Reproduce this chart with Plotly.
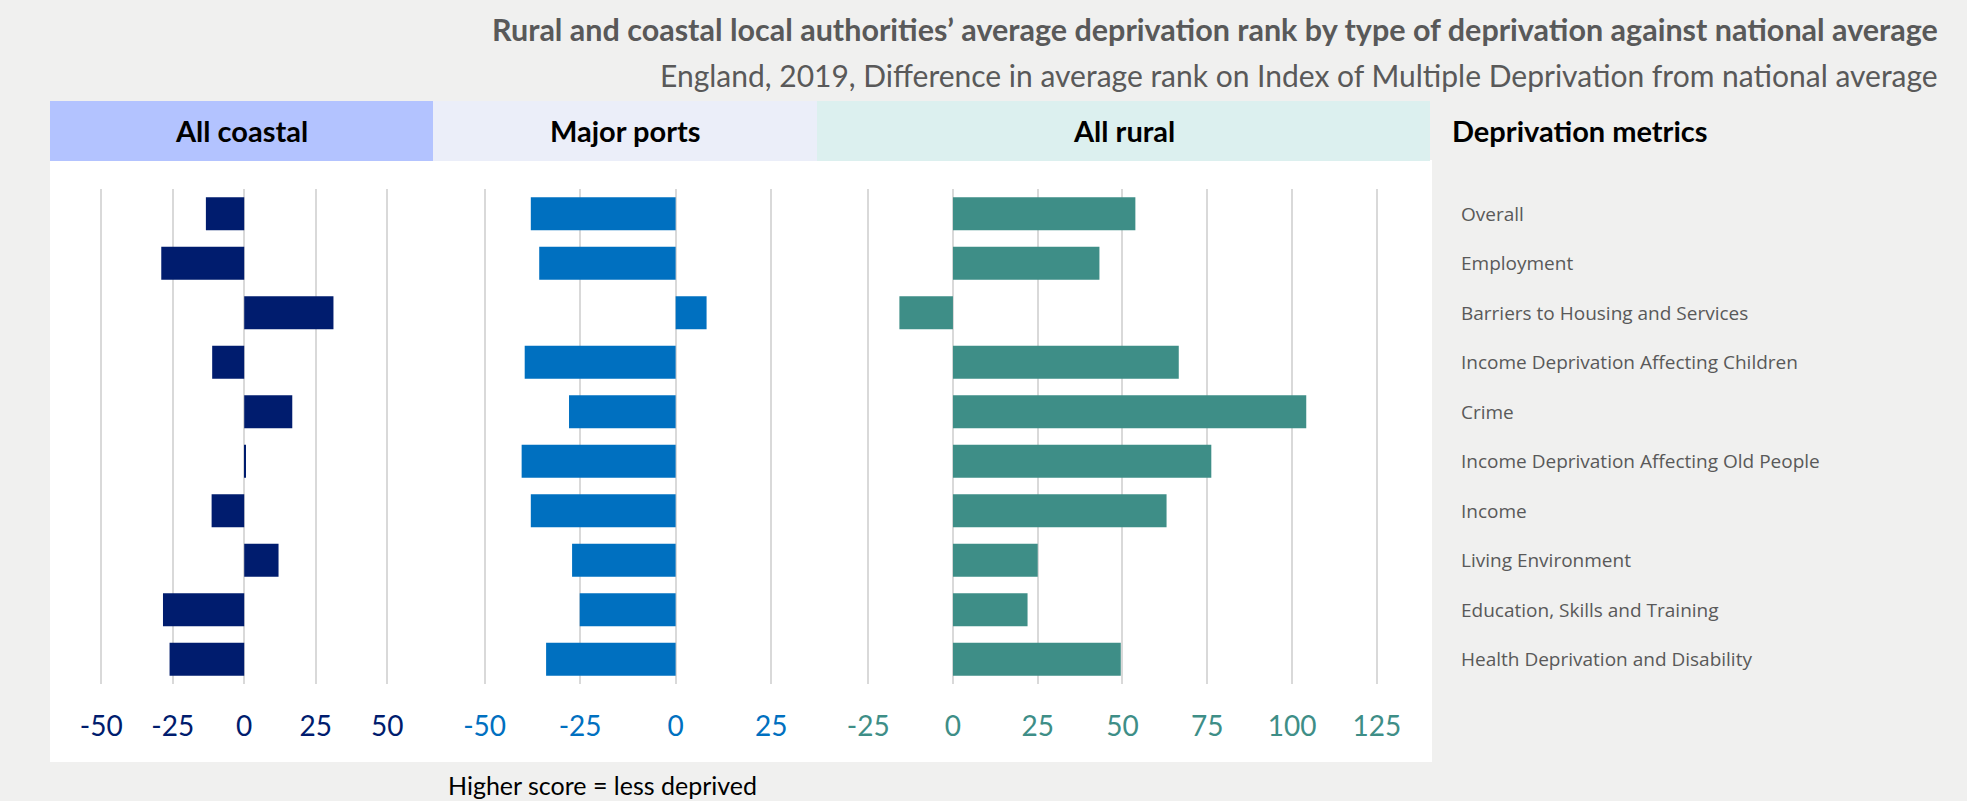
import plotly.graph_objects as go

metrics = ["Overall", "Employment", "Barriers to Housing and Services",
           "Income Deprivation Affecting Children", "Crime",
           "Income Deprivation Affecting Old People", "Income",
           "Living Environment", "Education, Skills and Training",
           "Health Deprivation and Disability"]

all_coastal = [-13.4, -29.0, 31.2, -11.2, 16.8, 0.3, -11.4, 12.0, -28.4, -26.1]
major_ports = [-37.9, -35.7, 8.1, -39.5, -27.9, -40.3, -37.9, -27.1, -25.1, -33.9]
all_rural = [53.8, 43.2, -15.8, 66.6, 104.2, 76.2, 63.0, 25.0, 22.0, 49.5]

panel_names = ["All coastal", "Major ports", "All rural"]
ticks_coastal = [-50, -25, 0, 25, 50]
ticks_ports = [-50, -25, 0, 25]
ticks_rural = [-25, 0, 25, 50, 75, 100, 125]

W, H = 1967, 801
bar_cols = ["#001C6E", "#0070C0", "#3E8E87"]
head_cols = ["#B3C3FF", "#EBEEF9", "#DCF0EF"]
# panel edges in pixels and the x range of each panel
edges = [(50, 433), (433, 817), (817, 1430)]
ranges = [[-67.9, 66.0], [-63.5, 37.0], [-40.1, 140.7]]
tickvals = [ticks_coastal, ticks_ports, ticks_rural]
series = [all_coastal, major_ports, all_rural]

def px(x):
    return x / W

def py(y):
    return 1 - y / H

font = "Open Sans"
fig = go.Figure()
layout = dict(
    width=W, height=H, margin=dict(l=0, r=0, t=0, b=0),
    paper_bgcolor="#F0F0EF", plot_bgcolor="rgba(0,0,0,0)",
    showlegend=False, bargap=0.33, shapes=[], annotations=[],
)

# white panel
layout["shapes"].append(dict(type="rect", xref="paper", yref="paper", layer="below",
                             x0=px(50), x1=px(1432), y0=py(762), y1=py(160),
                             fillcolor="white", line_width=0))

for i in range(3):
    ax = "" if i == 0 else str(i + 1)
    fig.add_trace(go.Bar(x=series[i], y=metrics, orientation="h",
                         marker=dict(color=bar_cols[i], line=dict(width=0)),
                         xaxis="x" + ax, yaxis="y" + ax))
    layout["xaxis" + ax] = dict(
        domain=[px(edges[i][0]), px(edges[i][1])], range=ranges[i],
        tickvals=tickvals[i], ticktext=[str(v) for v in tickvals[i]],
        showgrid=True, gridcolor="#D9D9D9", gridwidth=1.5,
        zeroline=False, showline=False, ticks="outside", ticklen=17,
        tickcolor="rgba(0,0,0,0)", anchor="y" + ax,
        tickfont=dict(family="Lato", size=28, color=bar_cols[i]), fixedrange=True)
    layout["yaxis" + ax] = dict(
        domain=[py(684), py(189)], autorange="reversed", showticklabels=False,
        showgrid=False, zeroline=False, anchor="x" + ax, fixedrange=True)
    # header band
    layout["shapes"].append(dict(type="rect", xref="paper", yref="paper", layer="below",
                                 x0=px(edges[i][0]), x1=px(edges[i][1]),
                                 y0=py(161), y1=py(101),
                                 fillcolor=head_cols[i], line_width=0))
    layout["annotations"].append(dict(text="<b>" + panel_names[i] + "</b>",
                                      xref="paper", yref="paper",
                                      x=(px(edges[i][0]) + px(edges[i][1])) / 2, y=py(131),
                                      showarrow=False, xanchor="center", yanchor="middle",
                                      font=dict(family="Lato", size=29, color="black")))

layout["annotations"].append(dict(text="<b>Deprivation metrics</b>", xref="paper", yref="paper",
                                  x=px(1450), y=py(131), showarrow=False,
                                  xanchor="left", yanchor="middle",
                                  font=dict(family="Lato", size=29, color="black")))
for m in metrics:
    layout["annotations"].append(dict(text=m, xref="paper", yref="y3", x=px(1459), y=m,
                                      showarrow=False, xanchor="left", yanchor="middle",
                                      font=dict(family=font, size=19, color="#595959")))

layout["annotations"].append(dict(
    text="<b>Rural and coastal local authorities’ average deprivation rank by type of deprivation against national average</b>",
    xref="paper", yref="paper", x=px(1940), y=py(29), showarrow=False,
    xanchor="right", yanchor="middle", font=dict(family="Lato", size=30.5, color="#595959")))
layout["annotations"].append(dict(
    text="England, 2019, Difference in average rank on Index of Multiple Deprivation from national average",
    xref="paper", yref="paper", x=px(1940), y=py(75), showarrow=False,
    xanchor="right", yanchor="middle", font=dict(family="Lato", size=30, color="#595959")))
layout["annotations"].append(dict(
    text="Higher score = less deprived", xref="paper", yref="paper", x=px(602), y=py(785),
    showarrow=False, xanchor="center", yanchor="middle",
    font=dict(family="Lato", size=25, color="black")))

fig.update_layout(**layout)
fig.write_html("out.html", config={"displayModeBar": False},
               post_script="document.body.style.margin='0';document.body.style.background='#F0F0EF';")
